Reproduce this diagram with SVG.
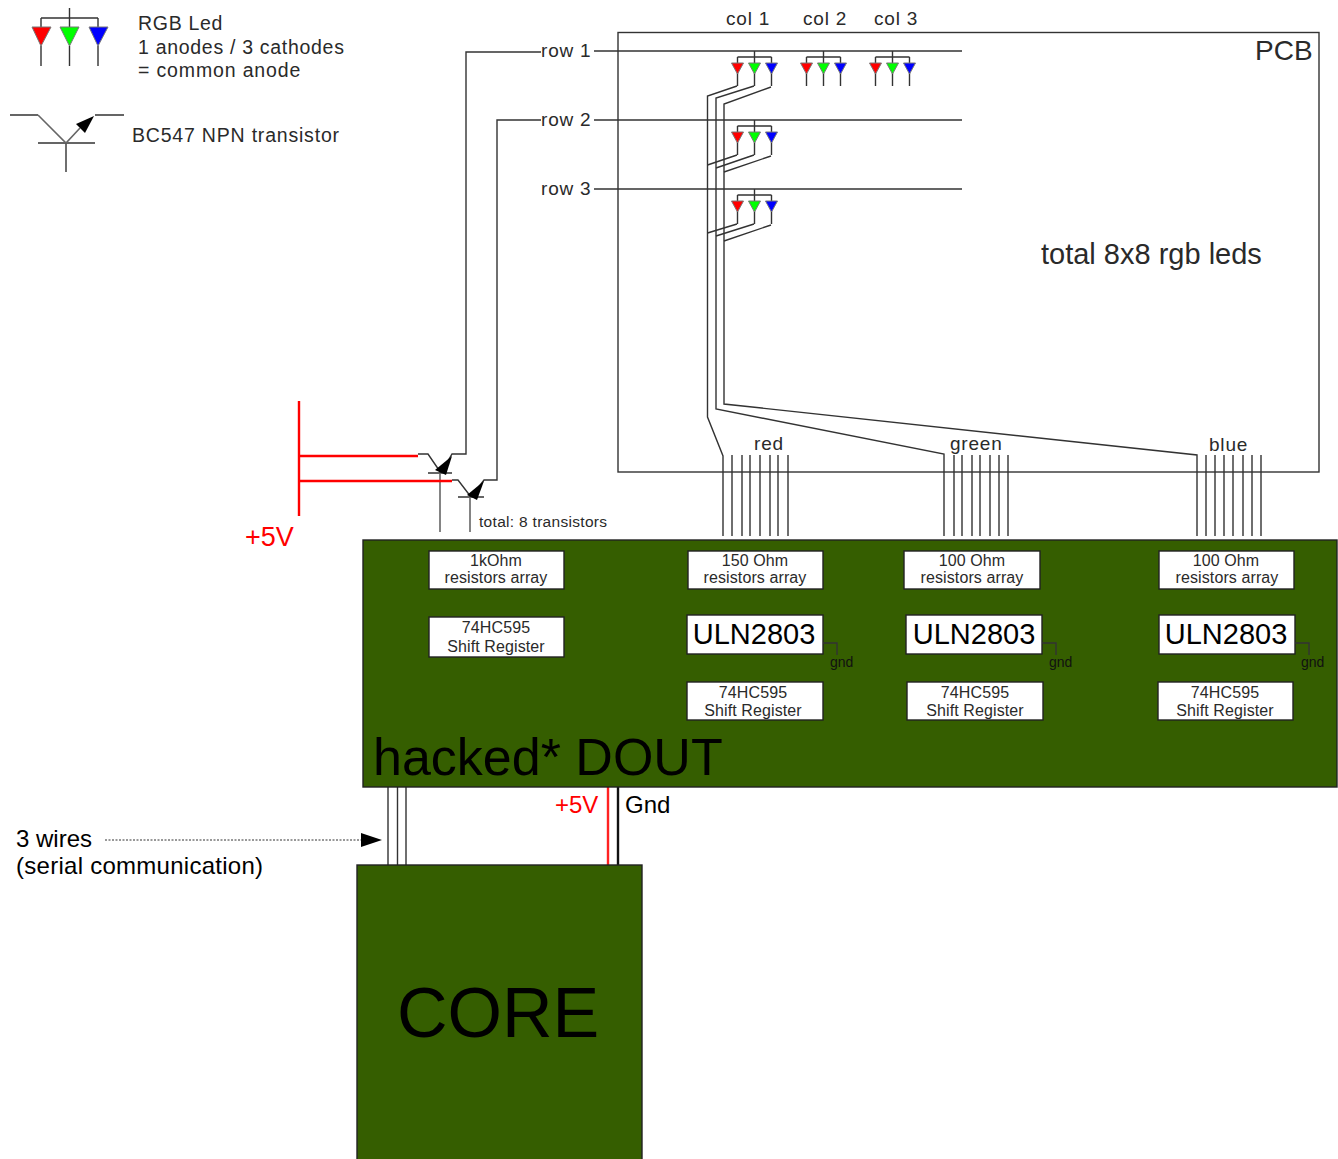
<svg xmlns="http://www.w3.org/2000/svg" width="1338" height="1159" viewBox="0 0 1338 1159">
<style>
text{font-family:"Liberation Sans",Arial,sans-serif;fill:#2a2a2a}
.w{fill:none;stroke:#333;stroke-width:1.4}
.g{fill:none;stroke:#666;stroke-width:1.6}
.r{fill:none;stroke:#f00;stroke-width:2.4}
.board{fill:#355e00;stroke:#222;stroke-width:1.4}
.box{fill:#fff;stroke:#222;stroke-width:1.4}
.s{font-size:16px;text-anchor:middle;letter-spacing:.1px}
.l{font-size:19px;letter-spacing:.8px}
.u{font-size:29px;text-anchor:middle;fill:#000}
.gn{font-size:14px;fill:#111}
.tri{stroke:#777;stroke-width:1}
</style>
<defs>
<g id="led">
<path class="w" d="M-17 -6H17M0 -12V0M-17 -6V0M17 -6V0M-17 10V23M0 10V23M17 10V23"/>
<path class="tri" fill="#f00" d="M-23 0H-11L-17 11Z"/>
<path class="tri" fill="#0f0" d="M-6 0H6L0 11Z"/>
<path class="tri" fill="#00f" d="M11 0H23L17 11Z"/>
</g>
</defs>
<g id="pcb">
<rect x="618" y="32.500" width="701" height="439.500" fill="none" stroke="#333" stroke-width="1.400"/>
<text x="1255" y="60" font-size="28">PCB</text>
<text x="1041" y="264" font-size="29">total 8x8 rgb leds</text>
<text x="726" y="25" class="l">col 1</text>
<text x="803" y="25" class="l">col 2</text>
<text x="874" y="25" class="l">col 3</text>
<text x="541" y="57" class="l">row 1</text>
<text x="541" y="126" class="l">row 2</text>
<text x="541" y="195" class="l">row 3</text>
<text x="754" y="450" class="l">red</text>
<text x="950" y="450" class="l">green</text>
<text x="1209" y="451" class="l">blue</text>
</g>
<g id="legend-led">
<path class="w" d="M41 18H98M69.500 8V27M41 18V27M98 18V27M41 46V66M69.500 46V66M98 46V66"/>
<path class="tri" fill="#f00" d="M32 27H51L41 46Z"/>
<path class="tri" fill="#0f0" d="M60 27H79L69.500 46Z"/>
<path class="tri" fill="#00f" d="M89 27H108L98 46Z"/>
<text x="138" y="30" font-size="19.500" letter-spacing=".7">RGB Led</text>
<text x="138" y="54" font-size="19.500" letter-spacing=".7">1 anodes / 3 cathodes</text>
<text x="138" y="77" font-size="19.500" letter-spacing=".85">= common anode</text>
</g>
<g id="legend-transistor">
<path class="w" d="M10 115H38M95 115H124M38 143H95M66 143V172"/>
<path class="g" d="M38 115L66 143L80 128"/>
<path fill="#000" d="M94 116L76 124L85 133Z"/>
<text x="132" y="142" font-size="19.500" letter-spacing=".8">BC547 NPN transistor</text>
</g>
<g id="connectors">
<path class="w" d="M594 51H962M594 120H962M594 189H962"/>
<path class="w" d="M541 52H466V454H452L441 473M428 473H452M418 454H428L441 473"/>
<path class="w" d="M541 120H497V480H484L471 497M458 497H484M452 480H458L471 497"/>
<path class="g" d="M440 473V532M470 497V532"/>
<path fill="#000" d="M452 456L435 470L446 475Z"/>
<path fill="#000" d="M484 481L467 495L477 500Z"/>
<path class="r" d="M299 401V516M299 456H418M299 481H452"/>
<path class="w" d="M737 86L707.500 96V417L723 456V536"/>
<path class="w" d="M754 86L716 98V409L944 454V536"/>
<path class="w" d="M771 87L724 104V404L1197 455V536"/>
<path class="w" d="M737 155L707.500 165M754 155L716 168M771 156L724 172"/>
<path class="w" d="M737 224L707.500 233M754 224L716 236M771 225L724 241"/>
<path class="w" d="M732 455V536M742 455V536M750 455V536M760 455V536M770 455V536M778 455V536M788 455V536"/>
<path class="w" d="M954 455V536M962 455V536M972 455V536M980 455V536M990 455V536M999 455V536M1008 455V536"/>
<path class="w" d="M1206 455V536M1215 455V536M1224 455V536M1233 455V536M1243 455V536M1252 455V536M1261 455V536"/>
<path class="w" d="M388 787V865M397.500 787V865M406 787V865"/>
<path d="M608 787V865" fill="none" stroke="#f22" stroke-width="2.400"/>
<path d="M618 787V865" fill="none" stroke="#111" stroke-width="2.400"/>
<path d="M105 840H362" fill="none" stroke="#333" stroke-dasharray="2 1.500"/>
<path fill="#000" d="M361 833L382 840L361 847Z"/>
</g>
<g id="leds">
<use href="#led" x="754.500" y="63"/>
<use href="#led" x="823.500" y="63"/>
<use href="#led" x="892.500" y="63"/>
<use href="#led" x="754.500" y="132"/>
<use href="#led" x="754.500" y="201"/>
</g>
<g id="power-label"><text x="245" y="546" font-size="27" style="fill:#f00">+5V</text></g>
<g id="transistor-note"><text x="479" y="527" font-size="15.500" letter-spacing=".3">total: 8 transistors</text></g>
<g id="dout">
<rect class="board" x="363" y="540" width="974" height="247"/>
<text x="373" y="775" font-size="52" style="fill:#000">hacked* DOUT</text>
</g>
<g id="r1k"><rect class="box" x="429" y="551" width="135" height="38"/><text class="s" x="496" y="566">1kOhm</text><text class="s" x="496" y="583">resistors array</text></g>
<g id="sr0"><rect class="box" x="429" y="617" width="135" height="40"/><text class="s" x="496" y="633">74HC595</text><text class="s" x="496" y="652">Shift Register</text></g>
<g id="r150"><rect class="box" x="688" y="551" width="135" height="38"/><text class="s" x="755" y="566">150 Ohm</text><text class="s" x="755" y="583">resistors array</text></g>
<g id="r100a"><rect class="box" x="904" y="551" width="136" height="38"/><text class="s" x="972" y="566">100 Ohm</text><text class="s" x="972" y="583">resistors array</text></g>
<g id="r100b"><rect class="box" x="1159" y="551" width="135" height="38"/><text class="s" x="1226" y="566">100 Ohm</text><text class="s" x="1227" y="583">resistors array</text></g>
<g id="uln1"><rect class="box" x="687" y="615" width="136" height="39"/><text class="u" x="754" y="644">ULN2803</text><path class="w" d="M823 643H837V655"/><text class="gn" x="830" y="667">gnd</text></g>
<g id="uln2"><rect class="box" x="906" y="615" width="136" height="39"/><text class="u" x="974" y="644">ULN2803</text><path class="w" d="M1042 643H1056V655"/><text class="gn" x="1049" y="667">gnd</text></g>
<g id="uln3"><rect class="box" x="1159" y="615" width="136" height="39"/><text class="u" x="1226" y="644">ULN2803</text><path class="w" d="M1295 643H1309V655"/><text class="gn" x="1301" y="667">gnd</text></g>
<g id="sr1"><rect class="box" x="687" y="682" width="136" height="38"/><text class="s" x="753" y="698">74HC595</text><text class="s" x="753" y="716">Shift Register</text></g>
<g id="sr2"><rect class="box" x="907" y="682" width="136" height="38"/><text class="s" x="975" y="698">74HC595</text><text class="s" x="975" y="716">Shift Register</text></g>
<g id="sr3"><rect class="box" x="1158" y="682" width="135" height="38"/><text class="s" x="1225" y="698">74HC595</text><text class="s" x="1225" y="716">Shift Register</text></g>
<g id="core">
<rect class="board" x="357" y="865" width="285" height="295"/>
<text x="397" y="1037" font-size="70" style="fill:#000">CORE</text>
</g>
<g id="wire-labels">
<text x="555" y="813" font-size="24" style="fill:#f00">+5V</text>
<text x="625" y="813" font-size="24" style="fill:#000">Gnd</text>
<text x="16" y="847" font-size="24" style="fill:#000">3 wires</text>
<text x="16" y="874" font-size="24" letter-spacing=".27" style="fill:#000">(serial communication)</text>
</g>
</svg>
